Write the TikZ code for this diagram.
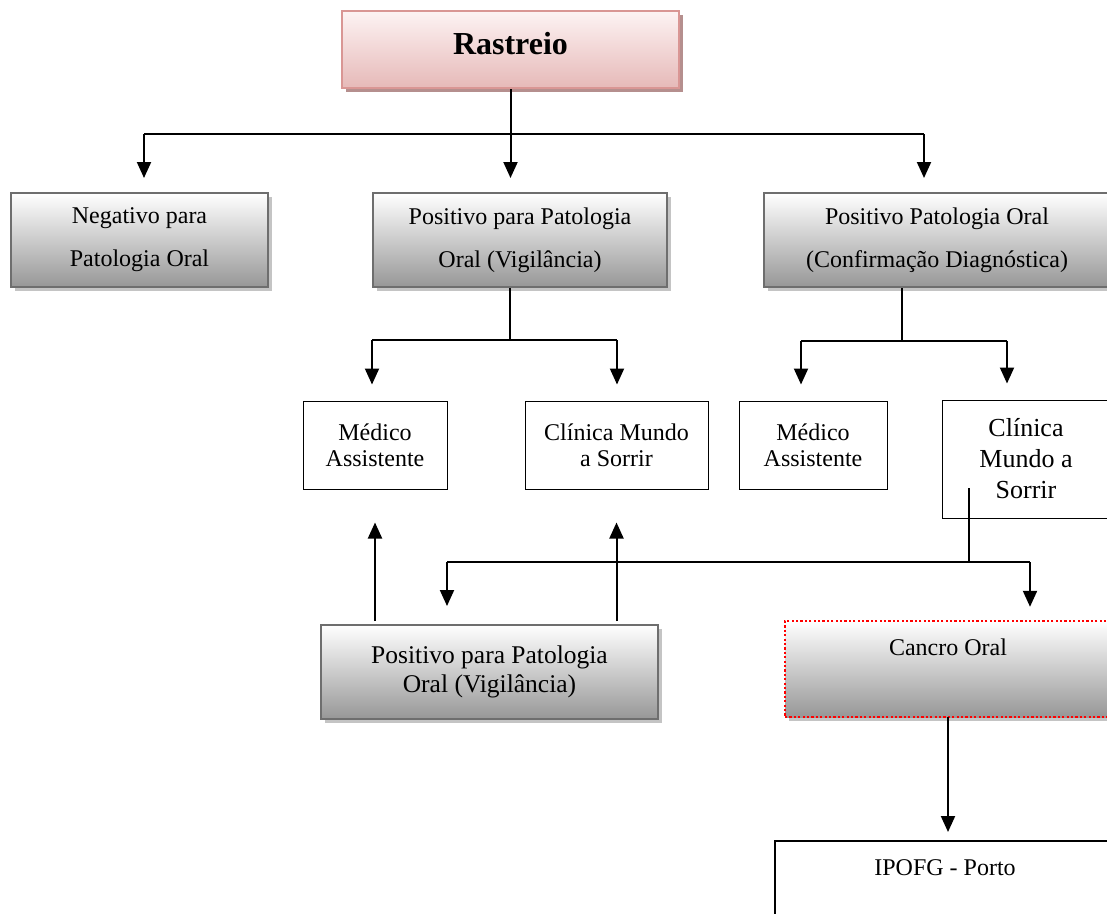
\documentclass[tikz,border=0pt]{standalone}
\usepackage{fontspec}
\setmainfont{Liberation Serif}
\usetikzlibrary{arrows.meta}
\definecolor{pinkborder}{HTML}{D99694}
\definecolor{pinktop}{HTML}{FDF3F3}
\definecolor{pinkbot}{HTML}{E6B9B8}
\definecolor{pinkshadow}{HTML}{B58F8E}
\definecolor{grayborder}{HTML}{6E6E6E}
\definecolor{graybot}{HTML}{979797}
\definecolor{grayshadow}{HTML}{C4C4C4}
\begin{document}
\begin{tikzpicture}[x=1pt,y=-1pt,
  rastbox/.style={draw=pinkborder, line width=2pt, top color=pinktop, bottom color=pinkbot,
    preaction={fill=pinkshadow, transform canvas={shift={(4pt,-4pt)}}},
    inner sep=0pt, font=\fontsize{32}{36}\bfseries\selectfont, text height=22pt, text depth=13pt},
  graybox/.style={draw=grayborder, line width=2pt, top color=white, bottom color=graybot,
    preaction={fill=grayshadow, transform canvas={shift={(4pt,-4pt)}}},
    inner sep=0pt, align=center, font=\fontsize{24}{43}\selectfont},
  thinbox/.style={draw=black, line width=1pt, inner sep=0pt, align=center, font=\fontsize{24}{26}\selectfont},
  cancrobox/.style={top color=white, bottom color=graybot,
    preaction={fill=grayshadow, transform canvas={shift={(4pt,-4pt)}}},
    postaction={draw=red, line width=2.4pt, dash pattern=on 2.2pt off 2.2pt},
    inner sep=0pt, font=\fontsize{24}{28}\selectfont, text height=17pt, text depth=45pt},
  ipobox/.style={draw=black, line width=2pt, inner sep=0pt, font=\fontsize{24}{28}\selectfont, text height=17pt, text depth=67pt},
  ln2/.style={draw=black, line width=2pt},
  ln1/.style={draw=black, line width=1.2pt},
  arr/.style={draw=black, line width=2pt, -{Triangle[length=16pt,width=14pt]}}
]
\useasboundingbox (0,0) rectangle (1107,913);
\clip (0,0) rectangle (1107,913);

% nodes
\node[rastbox, minimum width=337pt, minimum height=77pt] (rast) at (510.5,49.5) {Rastreio};
\node[graybox, minimum width=257pt, minimum height=94pt] (neg) at (139.5,240) {Negativo para\\Patologia Oral};
\node[graybox, minimum width=294pt, minimum height=94pt] (pv) at (520,240) {Positivo para Patologia\\Oral (Vigilância)};
\node[graybox, minimum width=346pt, minimum height=94pt] (pc) at (937,240) {Positivo Patologia Oral\\(Confirmação Diagnóstica)};
\node[thinbox, minimum width=144pt, minimum height=88pt] (med1) at (375,445) {Médico\\Assistente};
\node[thinbox, minimum width=183pt, minimum height=88pt] (cli1) at (616.5,445) {Clínica Mundo\\a Sorrir};
\node[thinbox, minimum width=148pt, minimum height=88pt] (med2) at (813,445) {Médico\\Assistente};
\node[thinbox, minimum width=168pt, minimum height=118pt, font=\fontsize{26}{31}\selectfont] (cli2) at (1026,459) {Clínica\\Mundo a\\Sorrir};
\node[graybox, minimum width=337pt, minimum height=94pt, font=\fontsize{25.5}{29}\selectfont] (pvb) at (489.5,672) {Positivo para Patologia\\Oral (Vigilância)};
\node[cancrobox, minimum width=326pt, minimum height=96pt] (cancro) at (948,669) {Cancro Oral};
\node[ipobox, minimum width=340pt, minimum height=118pt] (ipo) at (945,900) {IPOFG - Porto};

% junction coordinates
\coordinate (b1L) at (144,134);
\coordinate (b1R) at (924,134);
\coordinate (b2M) at (510,340);
\coordinate (b2L) at (372,340);
\coordinate (b2R) at (617,340);
\coordinate (b3M) at (902,341);
\coordinate (b3L) at (801,341);
\coordinate (b3R) at (1007,341);
\coordinate (c2src) at (969,488);
\coordinate (b4M) at (969,562);
\coordinate (b4L) at (447,562);
\coordinate (b4R) at (1030,562);

% level 1
\draw[ln2] (rast.south) -- (rast.south |- b1L);
\draw[ln2] (b1L) -- (b1R);
\draw[arr, shorten >=14pt] (b1L) -- (b1L |- neg.north);
\draw[arr, shorten >=14pt] (rast.south |- b1L) -- (rast.south |- pv.north);
\draw[arr, shorten >=14pt] (b1R) -- (b1R |- pc.north);

% level 2 left
\draw[ln1] (pv.south -| b2M) -- (b2M);
\draw[ln2] (b2L) -- (b2R);
\draw[arr, shorten >=16pt] (b2L) -- (b2L |- med1.north);
\draw[arr, shorten >=16pt] (b2R) -- (b2R |- cli1.north);

% level 2 right
\draw[ln1] (pc.south -| b3M) -- (b3M);
\draw[ln1] (b3L) -- (b3R);
\draw[arr, shorten >=16pt] (b3L) -- (b3L |- med2.north);
\draw[arr, shorten >=16pt] (b3R) -- (b3R |- cli2.north);

% level 3
\draw[ln1] (c2src) -- (b4M);
\draw[ln2] (b4L) -- (b4R);
\draw[arr, shorten >=18pt] (b4L) -- (b4L |- pvb.north);
\draw[arr, shorten >=14pt] (b4R) -- (b4R |- cancro.north);

% up arrows
\draw[arr, shorten <=3pt, shorten >=33pt] (pvb.north -| med1.south) -- (med1.south);
\draw[arr, shorten <=3pt, shorten >=33pt] (pvb.north -| cli1.south) -- (cli1.south);

% cancro to ipofg
\draw[arr, shorten >=8pt] (cancro.south) -- (cancro.south |- ipo.north);
\end{tikzpicture}
\end{document}
